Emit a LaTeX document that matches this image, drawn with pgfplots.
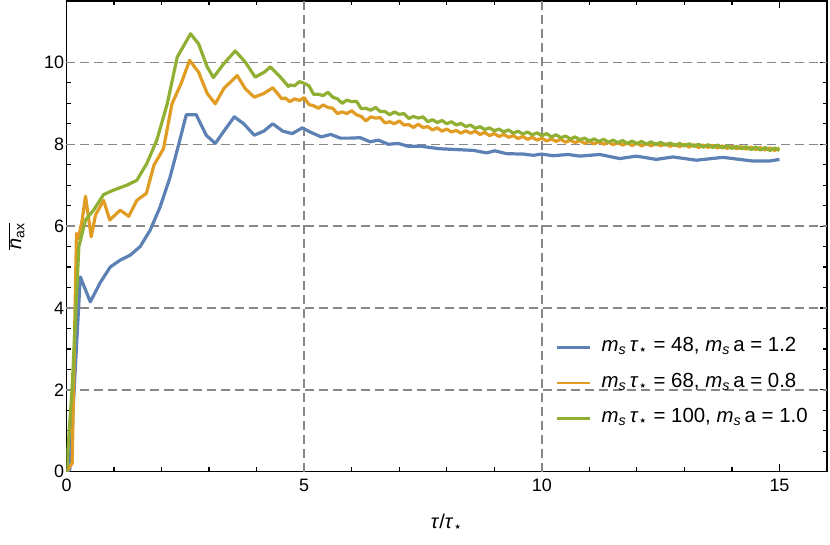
\documentclass[border=0pt]{standalone}
\usepackage{pgfplots}
\pgfplotsset{compat=1.18}
\usepackage{fontspec}
\setmainfont{Liberation Sans}
\newfontfamily\dejavu{DejaVu Sans}
\definecolor{mblue}{rgb}{0.368,0.507,0.710}
\definecolor{morange}{rgb}{0.881,0.611,0.142}
\definecolor{mgreen}{rgb}{0.560,0.692,0.195}
\newcommand{\tstar}{\textit{τ}\textsubscript{\dejavu ⋆}}
\newcommand{\ms}{\textit{m}\textsubscript{\textit{s}}}
\begin{document}
\begin{tikzpicture}
\begin{axis}[
  width=760.5bp, height=470.7bp, scale only axis,
  xmin=0, xmax=16, ymin=0, ymax=11.5,
  xtick={0,5,10,15}, ytick={0,2,4,6,8,10},
  minor x tick num=4, minor y tick num=3,
  tick align=inside,
  major tick length=7.5bp, minor tick length=4.5bp,
  every tick/.style={black, line width=1.2bp},
  axis line style={line width=1.4bp},
  extra x ticks={5,10}, extra y ticks={2,4,6,8,10},
  extra tick style={grid=major, major tick length=0pt, ticklabel style={opacity=0}},
  major grid style={black!47, dash pattern=on 9bp off 5bp, line width=1.4bp},
  ticklabel style={font=\fontsize{18}{21}\selectfont},
  xticklabel style={yshift=-4bp},
  yticklabel style={xshift=1bp},
  /pgf/number format/assume math mode=true,
  xlabel={\textit{τ}/\tstar},
  ylabel={$\overline{\mbox{\textit{n}\textsubscript{ax}}}$},
  xlabel style={at={(axis description cs:0.5,0)}, anchor=center, yshift=-51bp},
  ylabel style={at={(axis description cs:0,0.5)}, anchor=center, yshift=50bp},
  label style={font=\fontsize{20}{23}\selectfont},
  legend cell align=left,
  legend image code/.code={\draw[#1, line width=2.4bp] (0bp,0bp) -- (33bp,0bp);},
  legend style={at={(axis cs:10.28,3.25)}, anchor=north west, draw=none, fill=none,
    inner sep=0pt, font=\fontsize{20.5}{24}\selectfont, row sep=18.5bp,
    nodes={inner sep=0pt, text height=13bp, text depth=4bp},
    /tikz/every odd column/.append style={column sep=11bp}},
  every axis plot/.append style={line width=3.2bp, line join=round},
]
\addplot[mblue, no marks] coordinates {
(0,0) (0.07,0.05) (0.29,4.76) (0.50,4.15) (0.71,4.62) (0.92,5.0) (1.13,5.17)
(1.34,5.29) (1.55,5.5) (1.76,5.9) (1.97,6.47) (2.18,7.2) (2.35,7.95) (2.52,8.72)
(2.73,8.72) (2.94,8.22) (3.13,8.02) (3.33,8.35) (3.53,8.67) (3.73,8.5) (3.95,8.22)
(4.15,8.32) (4.34,8.5) (4.55,8.32) (4.75,8.26) (4.96,8.40) (5.16,8.28) (5.36,8.18)
(5.56,8.24) (5.76,8.15) (5.97,8.15) (6.18,8.16) (6.39,8.06) (6.56,8.10) (6.77,8.0)
(6.98,8.02) (7.19,7.95) (7.47,7.95) (7.65,7.92) (7.86,7.89) (8.21,7.87) (8.56,7.85)
(8.84,7.79) (9.01,7.84) (9.26,7.77) (9.61,7.76) (9.82,7.73) (9.99,7.76) (10.24,7.72)
(10.55,7.75) (10.80,7.71) (11.22,7.75) (11.64,7.65) (11.99,7.71) (12.41,7.63)
(12.76,7.69) (13.25,7.61) (13.81,7.68) (14.44,7.59) (14.79,7.59) (15.0,7.63)
};
\addlegendentry{\ms\,\tstar{} = 48, \ms\,a = 1.2}
\addplot[morange, no marks] coordinates {
(0,0) (0.12,0.21) (0.21,5.82) (0.25,5.7) (0.33,6.15) (0.40,6.73) (0.52,5.74)
(0.61,6.27) (0.78,6.63) (0.91,6.15) (1.13,6.39) (1.31,6.24) (1.48,6.63) (1.68,6.80)
(1.84,7.49) (2.04,7.89) (2.22,8.99) (2.41,9.48) (2.59,10.05) (2.78,9.76) (2.96,9.24)
(3.13,8.99) (3.31,9.36) (3.59,9.68) (3.76,9.36) (3.95,9.15) (4.15,9.24) (4.34,9.38)
(4.53,9.11)
(4.6,9.13) (4.7,9.04) (4.8,9.11) (4.9,9.07) (5.0,9.14) (5.1,8.97) (5.2,8.94) (5.3,8.88)
(5.4,8.96) (5.5,8.90) (5.6,8.88) (5.7,8.75) (5.8,8.79) (5.9,8.75) (6.0,8.82) (6.1,8.72)
(6.2,8.68) (6.3,8.57) (6.4,8.67) (6.5,8.64) (6.6,8.65) (6.7,8.52) (6.8,8.55) (6.9,8.50)
(7.0,8.57) (7.1,8.47) (7.2,8.48) (7.3,8.41) (7.4,8.49) (7.5,8.41) (7.6,8.43) (7.7,8.35)
(7.8,8.40) (7.9,8.32) (8.0,8.37) (8.1,8.30) (8.2,8.34) (8.3,8.27) (8.4,8.33) (8.5,8.27)
(8.6,8.32) (8.7,8.24) (8.8,8.29) (8.9,8.21) (9.0,8.26) (9.1,8.19) (9.2,8.24) (9.3,8.17)
(9.4,8.21) (9.5,8.14) (9.6,8.19) (9.7,8.12) (9.8,8.17) (9.9,8.10) (10.0,8.15) (10.1,8.08)
(10.2,8.13) (10.3,8.07) (10.4,8.12) (10.5,8.05) (10.6,8.10) (10.7,8.04) (10.8,8.09)
(10.9,8.02) (11.0,8.07) (11.1,8.01) (11.2,8.06) (11.3,8.00) (11.4,8.05) (11.5,7.99)
(11.6,8.04) (11.7,7.98) (11.8,8.03) (11.9,7.97) (12.0,8.03) (12.1,7.96) (12.2,8.02)
(12.3,7.96) (12.4,8.02) (12.5,7.96) (12.6,8.01) (12.7,7.95) (12.8,8.00) (12.9,7.94)
(13.0,8.00) (13.1,7.93) (13.2,7.99) (13.3,7.92) (13.4,7.98) (13.5,7.92) (13.6,7.97)
(13.7,7.91) (13.8,7.96) (13.9,7.90) (14.0,7.95) (14.1,7.89) (14.2,7.94) (14.3,7.88)
(14.4,7.93) (14.5,7.87) (14.6,7.92) (14.7,7.86) (14.8,7.91) (14.9,7.85) (15.0,7.91)
};
\addlegendentry{\ms\,\tstar{} = 68, \ms\,a = 0.8}
\addplot[mgreen, no marks] coordinates {
(0,0) (0.12,2.08) (0.26,5.5) (0.40,6.15) (0.57,6.39) (0.78,6.77) (0.99,6.88)
(1.27,7.0) (1.48,7.12) (1.69,7.53) (1.90,8.10) (2.12,8.99) (2.33,10.13) (2.61,10.7)
(2.78,10.45) (2.96,9.89) (3.09,9.63) (3.31,9.97) (3.55,10.28) (3.76,10.01) (3.97,9.64)
(4.16,9.76) (4.29,9.89) (4.50,9.64) (4.67,9.41)
(4.7,9.45) (4.8,9.43) (4.9,9.53) (5.0,9.49) (5.1,9.43) (5.2,9.22) (5.3,9.22) (5.4,9.19)
(5.5,9.27) (5.6,9.15) (5.7,9.11) (5.8,9.00) (5.9,9.08) (6.0,9.04) (6.1,9.05) (6.2,8.87)
(6.3,8.88) (6.4,8.83) (6.5,8.90) (6.6,8.80) (6.7,8.80) (6.8,8.72) (6.9,8.79) (7.0,8.73)
(7.1,8.75) (7.2,8.63) (7.3,8.68) (7.4,8.64) (7.5,8.67) (7.6,8.55) (7.7,8.60) (7.8,8.53)
(7.9,8.58) (8.0,8.50) (8.1,8.55) (8.2,8.47) (8.3,8.51) (8.4,8.43) (8.5,8.47) (8.6,8.39)
(8.7,8.43) (8.8,8.36) (8.9,8.40) (9.0,8.33) (9.1,8.37) (9.2,8.30) (9.3,8.35) (9.4,8.27)
(9.5,8.32) (9.6,8.25) (9.7,8.30) (9.8,8.23) (9.9,8.28) (10.0,8.21) (10.1,8.26) (10.2,8.18)
(10.3,8.23) (10.4,8.16) (10.5,8.20) (10.6,8.13) (10.7,8.18) (10.8,8.11) (10.9,8.15)
(11.0,8.08) (11.1,8.13) (11.2,8.07) (11.3,8.12) (11.4,8.05) (11.5,8.10) (11.6,8.04)
(11.7,8.09) (11.8,8.02) (11.9,8.08) (12.0,8.01) (12.1,8.07) (12.2,8.00) (12.3,8.06)
(12.4,7.99) (12.5,8.05) (12.6,7.98) (12.7,8.03) (12.8,7.97) (12.9,8.02) (13.0,7.96)
(13.1,8.01) (13.2,7.95) (13.3,8.00) (13.4,7.93) (13.5,7.99) (13.6,7.92) (13.7,7.98)
(13.8,7.91) (13.9,7.96) (14.0,7.90) (14.1,7.95) (14.2,7.89) (14.3,7.94) (14.4,7.87)
(14.5,7.93) (14.6,7.86) (14.7,7.92) (14.8,7.85) (14.9,7.91) (15.0,7.85)
};
\addlegendentry{\ms\,\tstar{} = 100, \ms\,a = 1.0}
\end{axis}
\pgfresetboundingbox
\path ([xshift=-66.5bp,yshift=-73.3bp]current axis.south west) rectangle ([xshift=3bp,yshift=1bp]current axis.north east);
\end{tikzpicture}
\end{document}
